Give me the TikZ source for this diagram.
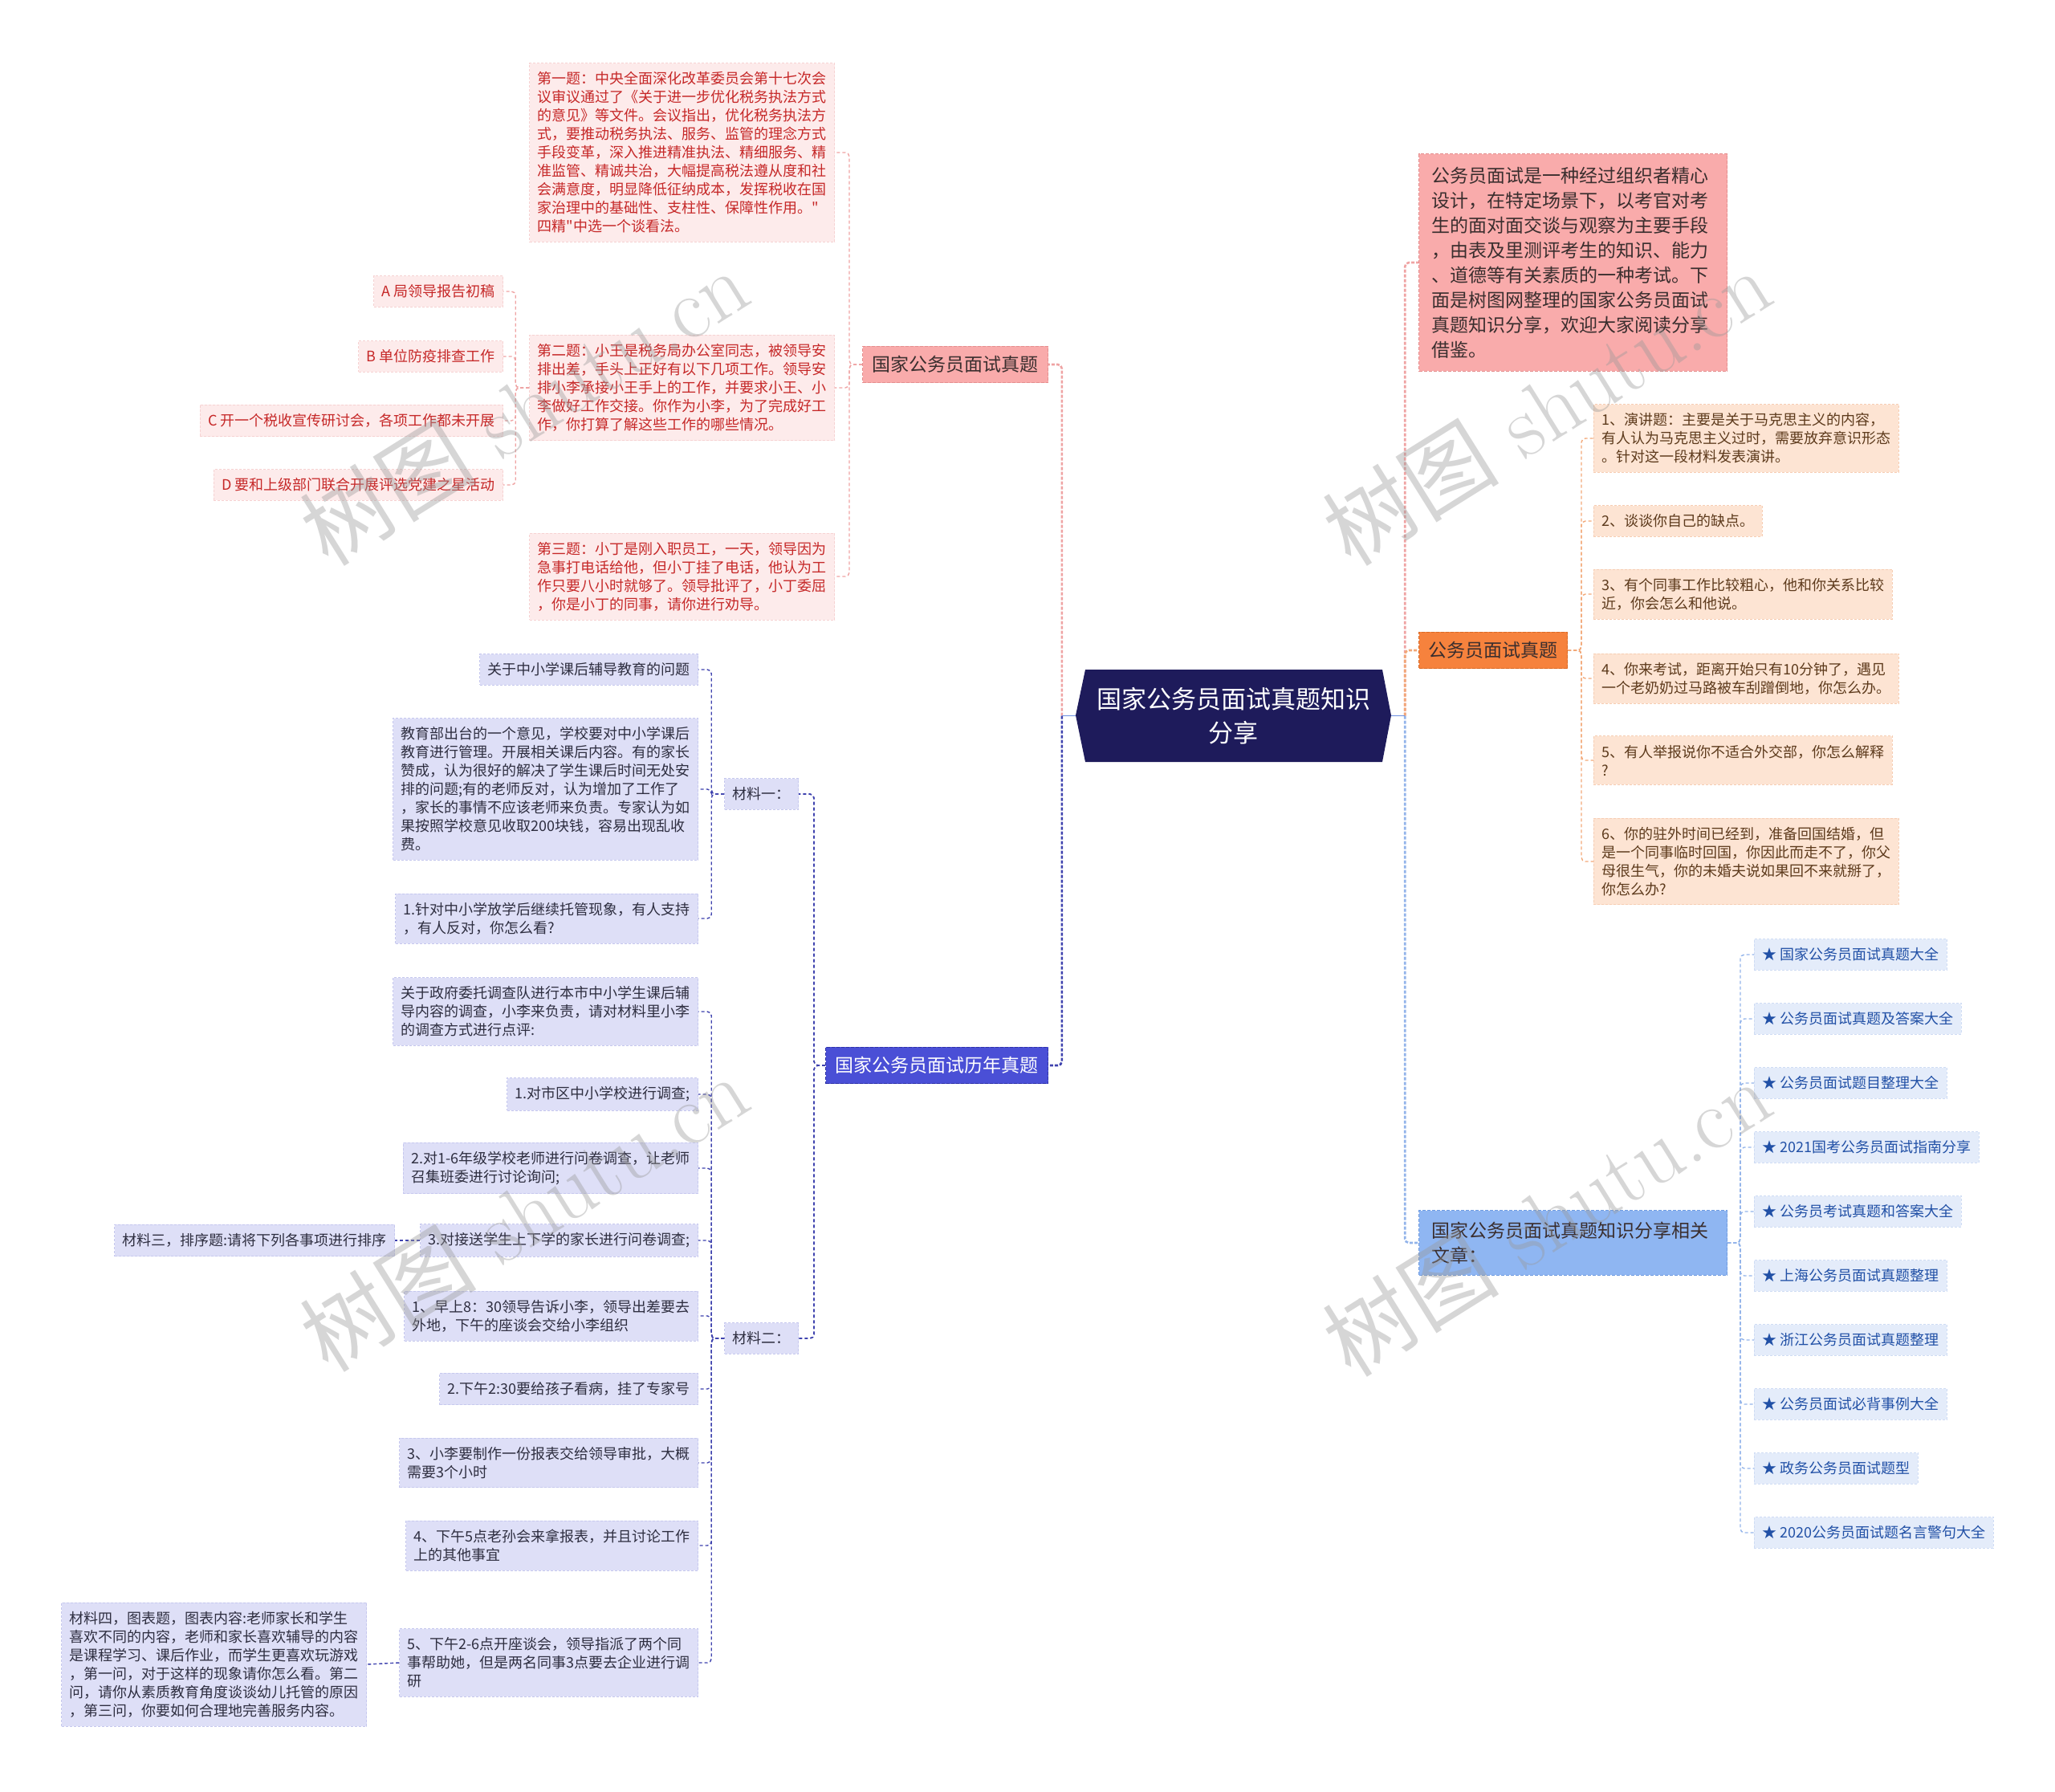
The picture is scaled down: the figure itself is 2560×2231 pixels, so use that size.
\documentclass[tikz,border=0pt]{standalone}
\usepackage{fontspec}
\newfontfamily\cjk{Noto Sans CJK SC}
\usetikzlibrary{positioning}

\definecolor{croot}{HTML}{1E1B5B}
\definecolor{crootln}{HTML}{6C8FE0}
\definecolor{cpinkmain}{HTML}{F9ABAB}
\definecolor{cpinkedge}{HTML}{E58E8E}
\definecolor{cpinkfill}{HTML}{FDEBEB}
\definecolor{cpinkbd}{HTML}{F6D2D2}
\definecolor{cpinktext}{HTML}{C62828}
\definecolor{cpinkln}{HTML}{EFA3A3}
\definecolor{cbluemain}{HTML}{4A4FD6}
\definecolor{cblueedge}{HTML}{2F33A6}
\definecolor{clavfill}{HTML}{DEDFF7}
\definecolor{clavbd}{HTML}{C6C8EE}
\definecolor{clavtext}{HTML}{2E2E40}
\definecolor{cblueln}{HTML}{3E42AE}
\definecolor{corgmain}{HTML}{F6823D}
\definecolor{corgedge}{HTML}{D96A26}
\definecolor{cpeachfill}{HTML}{FDE4D3}
\definecolor{cpeachbd}{HTML}{F6CDB3}
\definecolor{cpeachtext}{HTML}{5D3A1C}
\definecolor{corgln}{HTML}{F2A878}
\definecolor{cskymain}{HTML}{8FB6F2}
\definecolor{cskyedge}{HTML}{6F9BE0}
\definecolor{cartfill}{HTML}{E4ECFA}
\definecolor{cartbd}{HTML}{CFDCF4}
\definecolor{carttext}{HTML}{2150A6}
\definecolor{cskyln}{HTML}{93B4EA}
\definecolor{cdark}{HTML}{3A2E2E}

\newcommand{\lffont}{\cjk\fontsize{18}{23}\selectfont}
\newcommand{\mnfont}{\cjk\fontsize{23}{31}\selectfont}
\newcommand{\rtfont}{\cjk\fontsize{31}{42}\selectfont}
\newcommand{\wmfont}{\fontsize{110}{110}\selectfont}

\begin{document}
\begin{tikzpicture}[x=1pt, y=-1pt,
  leaf/.style={inner xsep=10, inner ysep=11, align=left, line width=0.8, dash pattern=on 3pt off 2pt, font=\lffont},
  branch/.style={inner xsep=12, inner ysep=12, align=left, line width=1, dash pattern=on 4pt off 2pt, font=\mnfont},
  pinkleaf/.style={leaf, fill=cpinkfill, draw=cpinkbd, text=cpinktext},
  lavleaf/.style={leaf, fill=clavfill, draw=clavbd, text=clavtext},
  peachleaf/.style={leaf, fill=cpeachfill, draw=cpeachbd, text=cpeachtext},
  artleaf/.style={leaf, fill=cartfill, draw=cartbd, text=carttext},
  link/.style={line width=1.4, dash pattern=on 4pt off 3pt, rounded corners=5},
  trunk/.style={line width=2.6, dash pattern=on 4pt off 2pt, rounded corners=5},
  watermark/.style={rotate=32, text=black!40, opacity=0.4, font=\wmfont}
]
\useasboundingbox (0,0) rectangle (2560,2231);

% root
\fill[croot] (1352,834) -- (1722,834) -- (1733,891) -- (1722,949) -- (1352,949) -- (1340,891) -- cycle;
\node[font=\rtfont, text=white, align=center, minimum width=393, minimum height=115, inner sep=0] (root) at (1536.5,891.5) {国家公务员面试真题知识\\分享};

% left upper branch
\node[branch, fill=cpinkmain, draw=cpinkedge, text=cdark, anchor=east] (zhenti) at (1306,454) {国家公务员面试真题};
\node[pinkleaf, anchor=east] (q1) at (1040,190) {第一题：中央全面深化改革委员会第十七次会\\议审议通过了《关于进一步优化税务执法方式\\的意见》等文件。会议指出，优化税务执法方\\式，要推动税务执法、服务、监管的理念方式\\手段变革，深入推进精准执法、精细服务、精\\准监管、精诚共治，大幅提高税法遵从度和社\\会满意度，明显降低征纳成本，发挥税收在国\\家治理中的基础性、支柱性、保障性作用。"\\四精"中选一个谈看法。};
\node[pinkleaf, anchor=east] (q2) at (1040,483) {第二题：小王是税务局办公室同志，被领导安\\排出差，手头上正好有以下几项工作。领导安\\排小李承接小王手上的工作，并要求小王、小\\李做好工作交接。你作为小李，为了完成好工\\作，你打算了解这些工作的哪些情况。};
\node[pinkleaf, anchor=east] (q3) at (1040,718) {第三题：小丁是刚入职员工，一天，领导因为\\急事打电话给他，但小丁挂了电话，他认为工\\作只要八小时就够了。领导批评了，小丁委屈\\，你是小丁的同事，请你进行劝导。};
\node[pinkleaf, anchor=east] (qa) at (627,363) {A 局领导报告初稿};
\node[pinkleaf, anchor=east] (qb) at (627,444) {B 单位防疫排查工作};
\node[pinkleaf, anchor=east] (qc) at (627,524) {C 开一个税收宣传研讨会，各项工作都未开展};
\node[pinkleaf, anchor=east] (qd) at (627,604) {D 要和上级部门联合开展评选党建之星活动};

% left lower branch
\node[branch, fill=cbluemain, draw=cblueedge, text=white, anchor=east] (linian) at (1306,1327) {国家公务员面试历年真题};
\node[lavleaf, anchor=east] (cl1) at (995,989) {材料一：};
\node[lavleaf, anchor=east] (cl2) at (995,1667) {材料二：};
\node[lavleaf, anchor=east] (a1) at (870,834) {关于中小学课后辅导教育的问题};
\node[lavleaf, anchor=east] (a2) at (870,983) {教育部出台的一个意见，学校要对中小学课后\\教育进行管理。开展相关课后内容。有的家长\\赞成，认为很好的解决了学生课后时间无处安\\排的问题;有的老师反对，认为增加了工作了\\，家长的事情不应该老师来负责。专家认为如\\果按照学校意见收取200块钱，容易出现乱收\\费。};
\node[lavleaf, anchor=east] (a3) at (870,1144) {1.针对中小学放学后继续托管现象，有人支持\\，有人反对，你怎么看?};
\node[lavleaf, anchor=east] (b1) at (870,1260) {关于政府委托调查队进行本市中小学生课后辅\\导内容的调查，小李来负责，请对材料里小李\\的调查方式进行点评:};
\node[lavleaf, anchor=east] (b2) at (870,1363) {1.对市区中小学校进行调查;};
\node[lavleaf, anchor=east] (b3) at (870,1455) {2.对1-6年级学校老师进行问卷调查，让老师\\召集班委进行讨论询问;};
\node[lavleaf, anchor=east] (b4) at (870,1545) {3.对接送学生上下学的家长进行问卷调查;};
\node[lavleaf, anchor=east] (b5) at (870,1639) {1、早上8：30领导告诉小李，领导出差要去\\外地，下午的座谈会交给小李组织};
\node[lavleaf, anchor=east] (b6) at (870,1730) {2.下午2:30要给孩子看病，挂了专家号};
\node[lavleaf, anchor=east] (b7) at (870,1822) {3、小李要制作一份报表交给领导审批，大概\\需要3个小时};
\node[lavleaf, anchor=east] (b8) at (870,1925) {4、下午5点老孙会来拿报表，并且讨论工作\\上的其他事宜};
\node[lavleaf, anchor=east] (b9) at (870,2071) {5、下午2-6点开座谈会，领导指派了两个同\\事帮助她，但是两名同事3点要去企业进行调\\研};
\node[lavleaf, anchor=east] (cl3) at (492,1545) {材料三，排序题:请将下列各事项进行排序};
\node[lavleaf, anchor=east] (cl4) at (457,2073) {材料四，图表题，图表内容:老师家长和学生\\喜欢不同的内容，老师和家长喜欢辅导的内容\\是课程学习、课后作业，而学生更喜欢玩游戏\\，第一问，对于这样的现象请你怎么看。第二\\问，请你从素质教育角度谈谈幼儿托管的原因\\，第三问，你要如何合理地完善服务内容。};

% right side
\node[branch, fill=cpinkmain, draw=cpinkedge, text=cdark, text width=352, inner xsep=16, inner ysep=16, anchor=west] (intro) at (1767,327) {公务员面试是一种经过组织者精心\\设计，在特定场景下，以考官对考\\生的面对面交谈与观察为主要手段\\，由表及里测评考生的知识、能力\\、道德等有关素质的一种考试。下\\面是树图网整理的国家公务员面试\\真题知识分享，欢迎大家阅读分享\\借鉴。};
\node[branch, fill=corgmain, draw=corgedge, text=cdark, anchor=west] (mianshi) at (1767,810) {公务员面试真题};
\node[branch, fill=cskymain, draw=cskyedge, text=cdark, text width=352, inner xsep=16, inner ysep=14, anchor=west] (related) at (1767,1548) {国家公务员面试真题知识分享相关\\文章：};
\node[peachleaf, anchor=west] (p1) at (1985,546) {1、演讲题：主要是关于马克思主义的内容，\\有人认为马克思主义过时，需要放弃意识形态\\。针对这一段材料发表演讲。};
\node[peachleaf, anchor=west] (p2) at (1985,649) {2、谈谈你自己的缺点。};
\node[peachleaf, anchor=west] (p3) at (1985,740) {3、有个同事工作比较粗心，他和你关系比较\\近，你会怎么和他说。};
\node[peachleaf, anchor=west] (p4) at (1985,845) {4、你来考试，距离开始只有10分钟了，遇见\\一个老奶奶过马路被车刮蹭倒地，你怎么办。};
\node[peachleaf, anchor=west] (p5) at (1985,947) {5、有人举报说你不适合外交部，你怎么解释\\?};
\node[peachleaf, anchor=west] (p6) at (1985,1073) {6、你的驻外时间已经到，准备回国结婚，但\\是一个同事临时回国，你因此而走不了，你父\\母很生气，你的未婚夫说如果回不来就掰了，\\你怎么办?};
\foreach \t [count=\i] in {国家公务员面试真题大全, 公务员面试真题及答案大全, 公务员面试题目整理大全, 2021国考公务员面试指南分享, 公务员考试真题和答案大全, 上海公务员面试真题整理, 浙江公务员面试真题整理, 公务员面试必背事例大全, 政务公务员面试题型, 2020公务员面试题名言警句大全}
  \node[artleaf, anchor=west] (art\i) at (2185,{1109+80*\i}) {★\hspace{4pt}\t};

% connectors
\draw[trunk, draw=cpinkln] (root.west) ++(-17,0) |- (zhenti.east);
\draw[trunk, draw=cblueln] (root.west) ++(-17,0) |- (linian.east);
\draw[line width=1.6, crootln] (root.west) -- ++(-17,0);
\draw[trunk, draw=cpinkln] (root.east) ++(17,0) |- (intro.west);
\draw[trunk, draw=corgln] (root.east) ++(17,0) |- (mianshi.west);
\draw[trunk, draw=cskyln] (root.east) ++(17,0) |- (related.west);
\draw[line width=1.6, crootln] (root.east) -- ++(17,0);

\foreach \c in {q1,q2,q3}
  \draw[link, draw=cpinkln] (zhenti.west) -- ++(-16,0) |- (\c.east);
\foreach \c in {qa,qb,qc,qd}
  \draw[link, draw=cpinkln] (q2.west) -- ++(-17,0) |- (\c.east);
\foreach \c in {cl1,cl2}
  \draw[link, line width=1.8, draw=cblueln] (linian.west) -- ++(-14,0) |- (\c.east);
\foreach \c in {a1,a2,a3}
  \draw[link, draw=cblueln] (cl1.west) -- ++(-16,0) |- (\c.east);
\foreach \c in {b1,b2,b3,b4,b5,b6,b7,b8,b9}
  \draw[link, draw=cblueln] (cl2.west) -- ++(-16,0) |- (\c.east);
\draw[link, draw=cblueln] (b4.west) -- (cl3.east);
\draw[link, draw=cblueln] (b9.west) -- (cl4.east);
\foreach \i in {1,...,6}
  \draw[link, draw=corgln] (mianshi.east) -- ++(17,0) |- (p\i.west);
\foreach \i in {1,...,10}
  \draw[link, draw=cskyln] (related.east) -- ++(16,0) |- (art\i.west);

% watermarks
\foreach \p [count=\i] in {(653,506),(1927,506),(653,1510),(1927,1516)}
  \node[watermark] (wm\i) at \p {{\cjk 树图} shutu.cn};
\end{tikzpicture}
\end{document}
